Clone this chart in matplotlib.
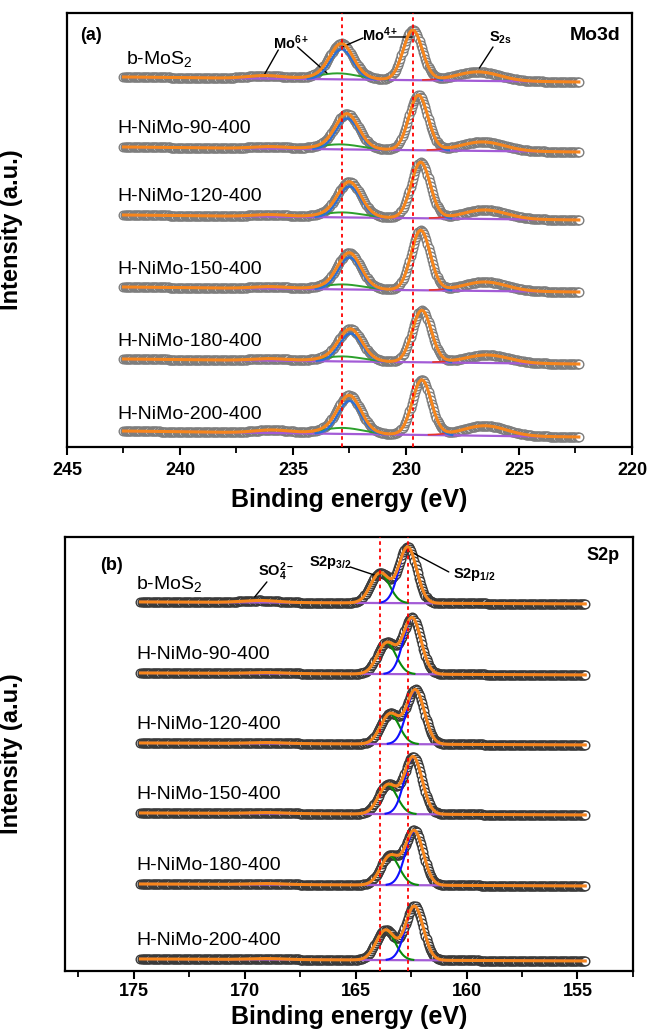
import matplotlib.pyplot as plt
import numpy as np

plt.rcParams['font.family'] = ['Liberation Sans', 'DejaVu Sans']
plt.rcParams['mathtext.fontset'] = 'custom'
plt.rcParams['mathtext.rm'] = 'Liberation Sans'
plt.rcParams['mathtext.it'] = 'Liberation Sans:italic'
plt.rcParams['mathtext.bf'] = 'Liberation Sans:bold'

samples = ["b-MoS$_2$", "H-NiMo-90-400", "H-NiMo-120-400",
           "H-NiMo-150-400", "H-NiMo-180-400", "H-NiMo-200-400"]

# ---- Mo 3d fit parameters (heights in arbitrary intensity units) ----
mo_start, mo_end = 242.5, 222.3
mo_offset = [365, 295, 227, 155, 83, 10]
mo_bg_rise = [5, 5, 5, 5, 5, 6]
mo4_pos = [229.70, 229.45, 229.35, 229.35, 229.30, 229.30]     # Mo4+ 3d5/2
mo4_height = [50, 55, 56, 60, 52, 55]
mo4b_pos = [232.85, 232.60, 232.50, 232.50, 232.45, 232.50]    # Mo4+ 3d3/2
mo4b_height = [30, 31, 31, 32, 28, 33]
mo6_pos = [233.0, 232.9, 232.8, 232.8, 232.8, 232.8]           # Mo6+ 3d5/2
mo6_height = [6, 5, 5, 5, 5, 6]
mo6b_pos = [236.2, 236.0, 236.0, 236.0, 236.0, 235.9]          # Mo6+ 3d3/2
mo6b_height = [3, 2, 2, 2, 2, 3]
s2s_pos = [226.8, 226.6, 226.5, 226.5, 226.4, 226.5]
s2s_height = [9, 9, 9, 9, 8, 10]

# ---- S 2p fit parameters ----
s_start, s_end = 174.7, 154.6
s_offset = [367, 296, 226, 156, 85, 10]
s_bg_rise = [2, 2, 2, 2, 2, 2]
sa_pos = [163.90, 163.60, 163.45, 163.55, 163.45, 163.65]      # labelled S2p3/2
sa_height = [30, 31, 30, 29, 29, 30]
sb_pos = [162.65, 162.45, 162.30, 162.40, 162.35, 162.35]      # labelled S2p1/2
sb_height = [56, 56, 54, 57, 54, 54]
so4_pos = [169.3, 169.0, 169.0, 169.0, 169.0, 169.0]
so4_height = [2, 1, 1, 1, 1, 1]


def gauss(x, pos, h, sig):
    return h * np.exp(-0.5 * ((x - pos) / sig) ** 2)


def background(x, start, end, off, rise):
    return off + rise * (x - end) / (start - end)


def visible(comp, bg):
    # only draw a component where it rises off the background
    return np.where(comp > 0.3, bg + comp, np.nan)


fig = plt.figure(figsize=(6.49, 10.30), dpi=100)
ax1 = fig.add_axes([0.1032, 0.566, 0.8706, 0.4214])
ax2 = fig.add_axes([0.1002, 0.0573, 0.875, 0.4214])

orange = '#f7861c'
purple = '#a35bd6'

# ---------------- (a) Mo3d ----------------
x = np.arange(mo_start, mo_end, -0.05)
for i in range(len(samples)):
    bg = background(x, mo_start, mo_end, mo_offset[i], mo_bg_rise[i])
    mo4 = gauss(x, mo4_pos[i], mo4_height[i], 0.42) + gauss(x, mo4b_pos[i], mo4b_height[i], 0.5)
    mo6 = gauss(x, mo6_pos[i], mo6_height[i], 0.9) + gauss(x, mo6b_pos[i], mo6b_height[i], 0.8)
    s2s = gauss(x, s2s_pos[i], s2s_height[i], 0.95)
    env = bg + mo4 + mo6 + s2s
    ax1.plot(x, env, 'o', ms=6.2, mfc='white', mec='#7d7d7d', mew=1.0, zorder=2)
    ax1.plot(x, bg, color=purple, lw=1.6, zorder=3)
    ax1.plot(x, visible(mo6, bg), color='#2ca02c', lw=1.4, zorder=3)
    ax1.plot(x, visible(s2s, bg), color='#e8332a', lw=1.2, zorder=3)
    ax1.plot(x, visible(mo4, bg), color='#2b6fd6', lw=1.6, zorder=4)
    ax1.plot(x, env, color=orange, lw=2.2, zorder=5)
    lx = 242.4 if i == 0 else 242.75
    ax1.text(lx, mo_offset[i] + 23, samples[i], fontsize=14, va='center', ha='left')

ax1.axvline(mo4b_pos[0], color='red', ls=(0, (2, 2)), lw=1.3, zorder=6)
ax1.axvline(mo4_pos[0], color='red', ls=(0, (2, 2)), lw=1.3, zorder=6)

ax1.set_xlim(245, 220)
ax1.set_ylim(0, 434)
ax1.set_xticks(np.arange(245, 219, -5))
ax1.set_xticks(np.arange(242.5, 220, -5), minor=True)

ax1.text(0.023, 0.949, '(a)', transform=ax1.transAxes, fontsize=13,
         fontweight='bold', va='center', ha='left')
ax1.text(0.979, 0.949, 'Mo3d', transform=ax1.transAxes, fontsize=14,
         fontweight='bold', va='center', ha='right')

line = dict(arrowstyle='-', color='black', lw=1.0, shrinkA=0, shrinkB=0)
ax1.text(235.1, 404, r'Mo$^{\mathbf{6+}}$', fontsize=10.5, fontweight='bold', ha='center', va='center')
ax1.annotate('', xy=(236.3, 371), xytext=(235.65, 397), arrowprops=line)
ax1.annotate('', xy=(233.5, 374), xytext=(234.8, 400), arrowprops=line)
ax1.text(231.15, 412, r'Mo$^{\mathbf{4+}}$', fontsize=10.5, fontweight='bold', ha='center', va='center')
ax1.annotate('', xy=(232.83, 400), xytext=(231.9, 409), arrowprops=line)
ax1.annotate('', xy=(229.73, 410), xytext=(230.75, 410), arrowprops=line)
ax1.text(225.8, 409, r'S$_{\mathbf{2s}}$', fontsize=10.5, fontweight='bold', ha='center', va='center')
ax1.annotate('', xy=(226.75, 379), xytext=(226.15, 400), arrowprops=line)

# ---------------- (b) S2p ----------------
x = np.arange(s_start, s_end, -0.05)
for i in range(len(samples)):
    bg = background(x, s_start, s_end, s_offset[i], s_bg_rise[i])
    pa = gauss(x, sa_pos[i], sa_height[i], 0.42)
    pb = gauss(x, sb_pos[i], sb_height[i], 0.40)
    so4 = gauss(x, so4_pos[i], so4_height[i], 0.8)
    env = bg + pa + pb + so4
    ax2.plot(x, env, 'o', ms=6.2, mfc='white', mec='#3a3a3a', mew=1.0, zorder=2)
    ax2.plot(x, bg, color=purple, lw=1.6, zorder=3)
    ax2.plot(x, visible(pa, bg), color='#0a8a0a', lw=1.5, zorder=4)
    ax2.plot(x, visible(pb, bg), color='#1010ff', lw=1.5, zorder=4)
    ax2.plot(x, env, color=orange, lw=2.2, zorder=5)
    ax2.text(174.9, s_offset[i] + 20, samples[i], fontsize=14, va='center', ha='left')

ax2.axvline(sa_pos[0], color='red', ls=(0, (2, 2)), lw=1.3, zorder=6)
ax2.axvline(sb_pos[0], color='red', ls=(0, (2, 2)), lw=1.3, zorder=6)

ax2.set_xlim(178.1, 152.5)
ax2.set_ylim(0, 434)
ax2.set_xticks(np.arange(175, 154, -5))
ax2.set_xticks(np.arange(177.5, 152, -5), minor=True)

ax2.text(0.062, 0.935, '(b)', transform=ax2.transAxes, fontsize=13,
         fontweight='bold', va='center', ha='left')
ax2.text(0.977, 0.958, 'S2p', transform=ax2.transAxes, fontsize=13,
         fontweight='bold', va='center', ha='right')

ax2.text(168.6, 399, r'SO$_{\mathbf{4}}^{\mathbf{2-}}$', fontsize=10.5, fontweight='bold',
         ha='center', va='center')
ax2.annotate('', xy=(169.55, 374), xytext=(169.0, 389), arrowprops=line)
ax2.text(166.15, 408, r'S2p$_{\mathbf{3/2}}$', fontsize=10.5, fontweight='bold',
         ha='center', va='center')
ax2.annotate('', xy=(164.03, 395), xytext=(165.25, 404), arrowprops=line)
ax2.text(159.65, 396, r'S2p$_{\mathbf{1/2}}$', fontsize=10.5, fontweight='bold',
         ha='center', va='center')
ax2.annotate('', xy=(162.67, 421), xytext=(160.8, 399), arrowprops=line)

for ax in (ax1, ax2):
    ax.set_yticks([])
    for s in ax.spines.values():
        s.set_linewidth(1.6)
    ax.tick_params(axis='x', which='major', direction='out', length=6, width=1.5,
                   labelsize=13, pad=5)
    ax.tick_params(axis='x', which='minor', direction='out', length=4, width=1.3)
    for lab in ax.get_xticklabels():
        lab.set_fontweight('bold')
    ax.set_ylabel('Intensity (a.u.)', fontsize=17, fontweight='bold')

ax1.set_xlabel('Binding energy (eV)', fontsize=18, fontweight='bold', labelpad=6)
ax2.tick_params(axis='x', which='major', pad=3)
ax2.set_xlabel('Binding energy (eV)', fontsize=18, fontweight='bold', labelpad=3)

ax1.yaxis.set_label_coords(-0.078, 0.5)
ax2.yaxis.set_label_coords(-0.074, 0.5)

fig.savefig('out.png', dpi=100)
